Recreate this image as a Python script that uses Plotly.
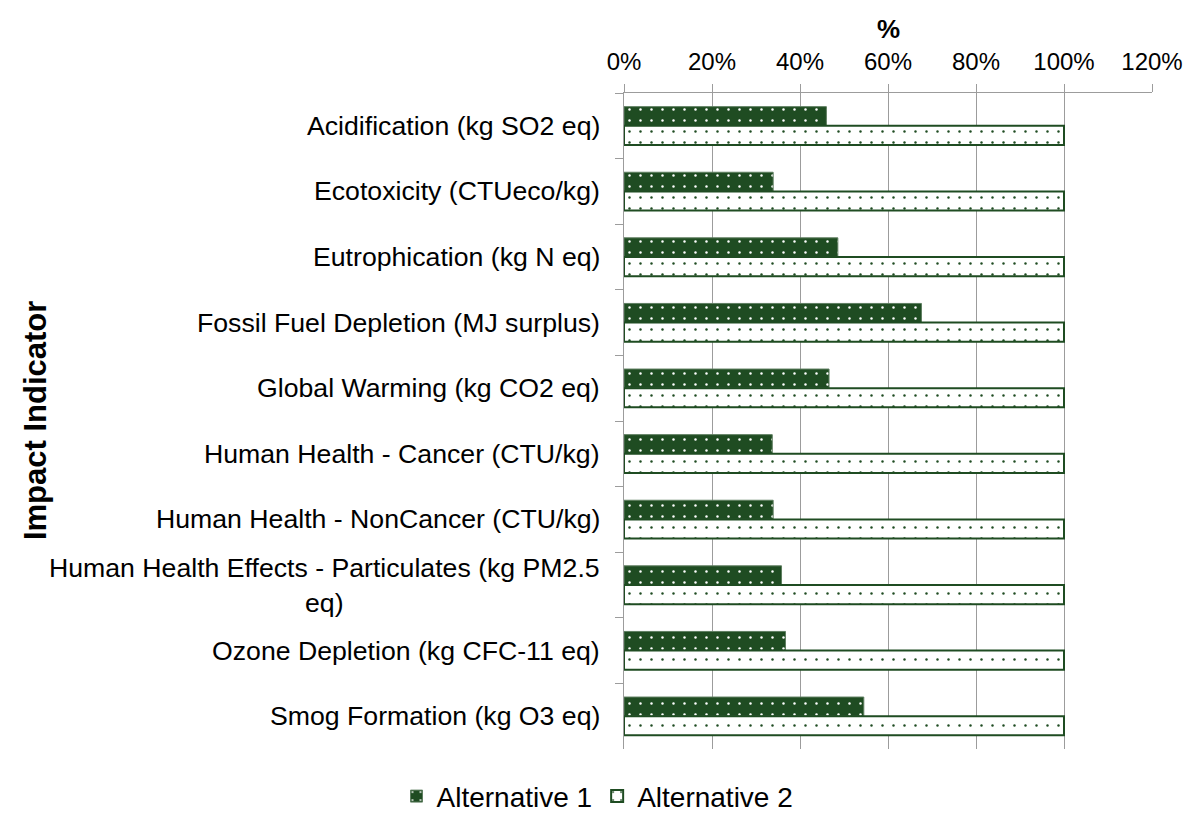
import plotly.graph_objects as go

# Impact indicators (top to bottom) and relative results, as fraction of the max
categories = [
    "Acidification (kg SO2 eq)",
    "Ecotoxicity (CTUeco/kg)",
    "Eutrophication (kg N eq)",
    "Fossil Fuel Depletion (MJ surplus)",
    "Global Warming (kg CO2 eq)",
    "Human Health - Cancer (CTU/kg)",
    "Human Health - NonCancer (CTU/kg)",
    "Human Health Effects - Particulates (kg PM2.5<br>eq)",
    "Ozone Depletion (kg CFC-11 eq)",
    "Smog Formation (kg O3 eq)",
]
alternative_1 = [0.46, 0.339, 0.486, 0.676, 0.466, 0.337, 0.339, 0.358, 0.367, 0.545]
alternative_2 = [1.00, 1.00, 1.00, 1.00, 1.00, 1.00, 1.00, 1.00, 1.00, 1.00]
x_ticks = [0, 0.2, 0.4, 0.6, 0.8, 1.0, 1.2]

GREEN = "#1F4C22"
GRID = "#9C9C9C"
FONT = "Liberation Sans, Arial, sans-serif"

W, H = 1195, 816
ML, MR, MT, MB = 623.5, 38.5, 92.7, 67.3
plot_w = W - ML - MR
plot_h = H - MT - MB

fig = go.Figure()

fig.add_trace(go.Bar(
    name="Alternative 1",
    y=categories,
    x=alternative_1,
    orientation="h",
    marker=dict(
        color=GREEN,
        line=dict(color="#5E7E60", width=1),
        pattern=dict(shape=".", size=11, solidity=0.04,
                     fgcolor="white", bgcolor=GREEN, fillmode="replace"),
    ),
))

fig.add_trace(go.Bar(
    name="Alternative 2",
    y=categories,
    x=alternative_2,
    orientation="h",
    marker=dict(
        color="white",
        line=dict(color=GREEN, width=2),
        pattern=dict(shape=".", size=11, solidity=0.04,
                     fgcolor=GREEN, bgcolor="white", fillmode="replace"),
    ),
))

# Category labels, centred per line and right-aligned against the axis
label_x = (601 - ML) / plot_w
annotations = [
    dict(text=c, x=label_x, y=c, xref="paper", yref="y",
         xanchor="right", yanchor="middle", align="center", showarrow=False,
         font=dict(family=FONT, size=26.67, color="#000000"))
    for c in categories
]

# Axis titles
annotations.append(dict(
    text="<b>%</b>", x=0.5, y=(H - MB - 29) / plot_h, xref="paper", yref="paper",
    xanchor="center", yanchor="middle", showarrow=False,
    font=dict(family=FONT, size=26, color="#000000"),
))
annotations.append(dict(
    text="<b>Impact Indicator</b>", x=(29 - ML) / plot_w, y=0.5,
    xref="paper", yref="paper", textangle=-90,
    xanchor="center", yanchor="middle", showarrow=False,
    font=dict(family=FONT, size=31, color="#000000"),
))

fig.update_layout(
    width=W, height=H, autosize=False,
    margin=dict(l=ML, r=MR, t=MT, b=MB, pad=0),
    paper_bgcolor="white", plot_bgcolor="white",
    barmode="group", bargap=0.416, bargroupgap=0,
    font=dict(family=FONT, color="#000000"),
    annotations=annotations,
    legend=dict(
        orientation="h", xref="container", yref="container",
        x=0.5, xanchor="center", y=0.024, yanchor="middle",
        font=dict(family=FONT, size=28, color="#000000"),
        traceorder="normal",
    ),
    xaxis=dict(
        side="top", range=[0, 1.2], tickvals=x_ticks, tickformat=".0%",
        showgrid=True, gridcolor=GRID, gridwidth=1.3,
        showline=True, linecolor=GRID, linewidth=1.3,
        ticks="outside", ticklen=8, tickcolor=GRID, tickwidth=1.3,
        ticklabelstandoff=4,
        tickfont=dict(family=FONT, size=24, color="#000000"),
        zeroline=False, fixedrange=True,
    ),
    yaxis=dict(
        categoryorder="array", categoryarray=categories,
        autorange="reversed",
        showticklabels=False, showgrid=False, zeroline=False,
        showline=True, linecolor=GRID, linewidth=1.3,
        ticks="outside", tickson="boundaries", ticklen=8,
        tickcolor=GRID, tickwidth=1.3, fixedrange=True,
    ),
)

fig.write_html("out.html")
